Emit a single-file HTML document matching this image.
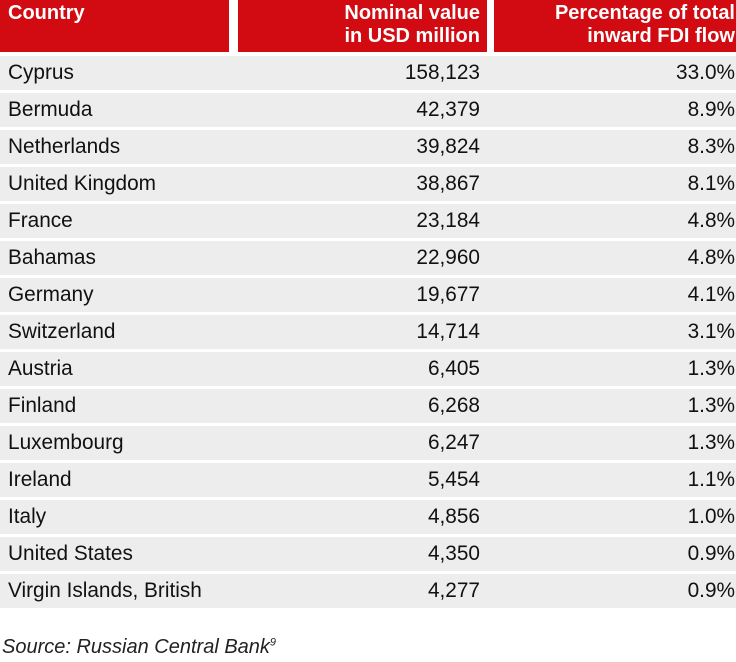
<!DOCTYPE html>
<html><head><style>
body{margin:0;width:736px;height:662px;background:#fff;font-family:"Liberation Sans",sans-serif;position:relative;overflow:hidden}
.h{position:absolute;top:0;height:52px;background:#d20a11;color:#fff;font-size:20px;font-weight:bold;line-height:23px;box-sizing:border-box}
.r{position:absolute;left:0;width:736px;height:34px;background:#ededed;font-size:20.8px;color:#111;line-height:34px}
.r span{position:absolute}
.c1{left:8px}.c2{right:256px}.c3{right:1px}
.src{position:absolute;left:2px;top:636px;font-size:20px;font-style:italic;color:#222}
</style></head><body>
<div class="h" style="left:0;width:229px;padding:2px 0 0 8px">Country</div>
<div class="h" style="left:238px;width:249px;text-align:right;padding:2px 7px 0 0">Nominal value<br>in USD million</div>
<div class="h" style="left:494px;width:242px;text-align:right;padding:2px 1px 0 0">Percentage of total<br>inward FDI flow</div>
<div class="r" style="top:56px"><span class="c1">Cyprus</span><span class="c2">158,123</span><span class="c3">33.0%</span></div>
<div class="r" style="top:93px"><span class="c1">Bermuda</span><span class="c2">42,379</span><span class="c3">8.9%</span></div>
<div class="r" style="top:130px"><span class="c1">Netherlands</span><span class="c2">39,824</span><span class="c3">8.3%</span></div>
<div class="r" style="top:167px"><span class="c1">United Kingdom</span><span class="c2">38,867</span><span class="c3">8.1%</span></div>
<div class="r" style="top:204px"><span class="c1">France</span><span class="c2">23,184</span><span class="c3">4.8%</span></div>
<div class="r" style="top:241px"><span class="c1">Bahamas</span><span class="c2">22,960</span><span class="c3">4.8%</span></div>
<div class="r" style="top:278px"><span class="c1">Germany</span><span class="c2">19,677</span><span class="c3">4.1%</span></div>
<div class="r" style="top:315px"><span class="c1">Switzerland</span><span class="c2">14,714</span><span class="c3">3.1%</span></div>
<div class="r" style="top:352px"><span class="c1">Austria</span><span class="c2">6,405</span><span class="c3">1.3%</span></div>
<div class="r" style="top:389px"><span class="c1">Finland</span><span class="c2">6,268</span><span class="c3">1.3%</span></div>
<div class="r" style="top:426px"><span class="c1">Luxembourg</span><span class="c2">6,247</span><span class="c3">1.3%</span></div>
<div class="r" style="top:463px"><span class="c1">Ireland</span><span class="c2">5,454</span><span class="c3">1.1%</span></div>
<div class="r" style="top:500px"><span class="c1">Italy</span><span class="c2">4,856</span><span class="c3">1.0%</span></div>
<div class="r" style="top:537px"><span class="c1">United States</span><span class="c2">4,350</span><span class="c3">0.9%</span></div>
<div class="r" style="top:574px"><span class="c1">Virgin Islands, British</span><span class="c2">4,277</span><span class="c3">0.9%</span></div>
<div class="src">Source: Russian Central Bank<sup style="font-size:11px">9</sup></div>
</body></html>
